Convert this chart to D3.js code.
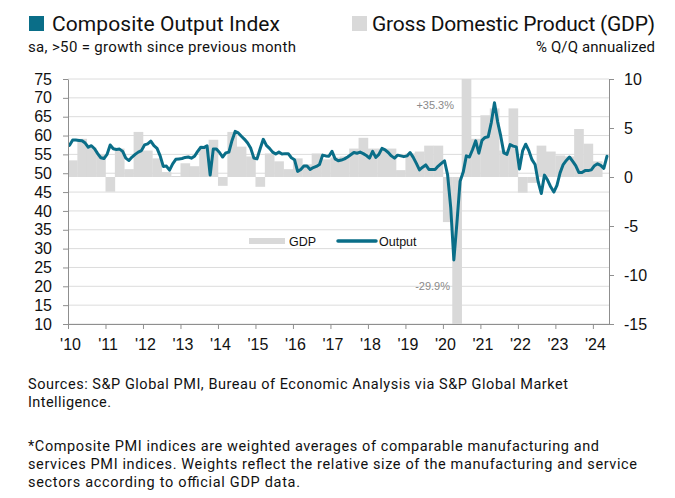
<!DOCTYPE html>
<html>
<head>
<meta charset="utf-8">
<script src="https://cdn.jsdelivr.net/npm/d3@7"></script>
<style>
  html, body { margin: 0; padding: 0; background: #fff; }
  svg { display: block; }
  .ttl { font-family: Roboto, "Liberation Sans", sans-serif; fill: #111; }
  .ax text { font-family: "Liberation Sans", Arial, sans-serif; font-size: 16px; fill: #111; }
</style>
</head>
<body>
<svg id="chart" width="675" height="498"></svg>
<script>
// ---------------- DATA ----------------
// Composite Output Index (PMI), monthly, Jan 2010 .. May 2024
const pmi2010 = [57.4, 58.8, 58.8, 58.7, 58.6, 58.0, 56.9, 57.3, 56.5, 55.2, 54.1, 53.9];
const pmi2011 = [55.0, 57.5, 56.5, 56.3, 56.4, 55.8, 54.0, 53.4, 54.3, 55.0, 55.6, 56.0];
const pmi2012 = [57.5, 57.8, 58.5, 57.3, 56.6, 54.6, 51.8, 51.9, 50.8, 52.5, 53.7, 53.8];
const pmi2013 = [53.9, 54.2, 54.3, 54.0, 54.5, 55.8, 56.9, 56.8, 57.3, 49.5, 56.4, 56.4];
const pmi2014 = [55.5, 54.3, 55.4, 55.6, 58.7, 61.1, 60.7, 59.8, 59.0, 58.0, 56.6, 54.0];
const pmi2015 = [53.8, 56.5, 59.0, 57.4, 56.6, 55.6, 55.1, 55.6, 55.1, 55.2, 55.2, 54.1];
const pmi2016 = [53.6, 50.5, 51.0, 51.9, 51.9, 51.0, 51.5, 51.8, 52.3, 54.8, 54.6, 54.5];
const pmi2017 = [55.8, 53.8, 53.3, 53.5, 53.8, 54.3, 54.9, 55.5, 55.3, 55.6, 55.2, 54.7];
const pmi2018 = [54.0, 55.8, 54.2, 55.0, 56.6, 56.2, 55.5, 54.6, 54.0, 54.8, 54.6, 54.4];
const pmi2019 = [54.6, 55.5, 54.2, 52.6, 50.9, 51.6, 52.2, 51.0, 51.0, 51.0, 51.9, 52.6];
const pmi2020 = [53.3, 49.6, 40.9, 27.0, 37.0, 47.9, 50.3, 54.6, 54.3, 56.3, 58.6, 55.3];
const pmi2021 = [58.7, 59.5, 59.7, 63.5, 68.7, 63.7, 59.9, 55.4, 55.0, 57.6, 57.2, 57.0];
const pmi2022 = [51.1, 55.9, 57.7, 56.0, 53.6, 52.3, 47.7, 44.6, 49.5, 48.2, 46.4, 45.0];
const pmi2023 = [46.8, 50.1, 52.3, 53.4, 54.3, 53.2, 52.0, 50.2, 50.2, 50.7, 50.7, 50.9];
const pmi2024 = [52.0, 52.5, 52.1, 51.3, 54.5];
const pmiStartYear = 2010;
const pmi = [].concat(pmi2010, pmi2011, pmi2012, pmi2013, pmi2014, pmi2015, pmi2016,
  pmi2017, pmi2018, pmi2019, pmi2020, pmi2021, pmi2022, pmi2023, pmi2024);

// GDP, % Q/Q annualized, quarterly, 2010Q1 .. 2024Q1
const gdp = [
  1.7, 3.9, 3.0, 2.3,
  -1.5, 2.9, 0.8, 4.6,
  2.7, 1.9, 0.5, 0.1,
  1.4, 1.1, 3.1, 3.8,
  -0.9, 4.6, 3.1, 2.1,
  -1.0, 2.4, 1.6, 0.8,
  1.9, 1.3, 2.4, 1.8,
  2.0, 2.1, 2.9, 4.0,
  2.9, 2.9, 2.9, 0.7,
  2.4, 2.6, 3.2, 3.2,
  -4.6, -29.9, 35.3, 3.9,
  6.3, 7.0, 2.7, 7.0,
  -1.6, -0.6, 3.2, 2.6,
  2.2, 2.1, 4.9, 3.4,
  1.6
];

const yearTicks = [2010, 2011, 2012, 2013, 2014, 2015, 2016, 2017, 2018, 2019, 2020, 2021, 2022, 2023, 2024];
const yearLabels = ["'10", "'11", "'12", "'13", "'14", "'15", "'16", "'17", "'18", "'19", "'20", "'21", "'22", "'23", "'24"];
const leftTicks = [10, 15, 20, 25, 30, 35, 40, 45, 50, 55, 60, 65, 70, 75];
const rightTicks = [-15, -10, -5, 0, 5, 10];
const annotations = ["+35.3%", "-29.9%"];

const titleLeft = "Composite Output Index";
const subLeft = "sa, >50 = growth since previous month";
const titleRight = "Gross Domestic Product (GDP)";
const subRight = "% Q/Q annualized";
const footer1 = ["Sources: S&P Global PMI, Bureau of Economic Analysis via S&P Global Market", "Intelligence."];
const footer2 = ["*Composite PMI indices are weighted averages of comparable manufacturing and",
  "services PMI indices. Weights reflect the relative size of the manufacturing and service",
  "sectors according to official GDP data."];

// ---------------- CHART ----------------
const TEAL = "#0a6e88";
const GREY = "#d9d9d9";
const svg = d3.select("#chart");
svg.append("rect").attr("width", 675).attr("height", 498).attr("fill", "#fff");

const L = 68, R = 609, T = 79, B = 324;
const x = d3.scaleLinear().domain([2010, 2024.43]).range([L, R]);
const yL = d3.scaleLinear().domain([10, 75]).range([B, T]);
const yR = d3.scaleLinear().domain([-15, 10]).range([B, T]);

svg.append("defs").append("clipPath").attr("id", "clip")
  .append("rect").attr("x", L).attr("y", T).attr("width", R - L).attr("height", B - T);

// gridlines
svg.append("g").selectAll("line").data(leftTicks).join("line")
  .attr("x1", L).attr("x2", R)
  .attr("y1", d => yL(d)).attr("y2", d => yL(d))
  .attr("stroke", "#dcdcdc").attr("stroke-width", 1);

// GDP bars
const clampR = v => Math.max(-15, Math.min(10, v));
svg.append("g").attr("clip-path", "url(#clip)")
  .selectAll("rect").data(gdp).join("rect")
  .attr("x", (d, i) => x(2010 + i / 4))
  .attr("width", (d, i) => x(2010 + (i + 1) / 4) - x(2010 + i / 4) + 0.3)
  .attr("y", d => Math.min(yR(0), yR(clampR(d))))
  .attr("height", d => Math.abs(yR(clampR(d)) - yR(0)))
  .attr("fill", GREY);

// PMI line
const line = d3.line()
  .x((d, i) => x(pmiStartYear + (i + 0.5) / 12))
  .y(d => yL(d));
svg.append("path").datum(pmi)
  .attr("d", line)
  .attr("fill", "none")
  .attr("stroke", TEAL)
  .attr("stroke-width", 3)
  .attr("stroke-linejoin", "round")
  .attr("stroke-linecap", "round");

// axes
const axColor = "#8f8f8f";
function styleAxis(g) {
  g.attr("class", "ax");
  g.select(".domain").attr("stroke", axColor);
  g.selectAll(".tick line").attr("stroke", axColor);
}
svg.append("g").attr("transform", `translate(${L},0)`)
  .call(d3.axisLeft(yL).tickValues(leftTicks).tickFormat(d => String(d))
    .tickSize(5).tickSizeOuter(0).tickPadding(11))
  .call(styleAxis);
svg.append("g").attr("transform", `translate(${R},0)`)
  .call(d3.axisRight(yR).tickValues(rightTicks).tickFormat(d => String(d))
    .tickSize(5).tickSizeOuter(0).tickPadding(10))
  .call(styleAxis);
svg.append("g").attr("transform", `translate(0,${B})`)
  .call(d3.axisBottom(x).tickValues(yearTicks).tickFormat((d, i) => yearLabels[i])
    .tickSize(5).tickSizeOuter(0).tickPadding(10))
  .call(styleAxis)
  .selectAll(".tick text").attr("dx", "2px");

// annotations
svg.append("text").attr("x", 454).attr("y", 109).attr("text-anchor", "end")
  .attr("font-family", "'Liberation Sans', Arial, sans-serif").attr("font-size", 11)
  .attr("fill", "#8a8a8a").text(annotations[0]);
svg.append("text").attr("x", 450).attr("y", 290).attr("text-anchor", "end")
  .attr("font-family", "'Liberation Sans', Arial, sans-serif").attr("font-size", 11)
  .attr("fill", "#8a8a8a").text(annotations[1]);

// inner legend
const lg = svg.append("g").attr("font-family", "'Liberation Sans', Arial, sans-serif").attr("font-size", 12.5).attr("fill", "#111");
lg.append("rect").attr("x", 249).attr("y", 238).attr("width", 36).attr("height", 6).attr("fill", GREY);
lg.append("text").attr("x", 289).attr("y", 245.5).text("GDP");
lg.append("line").attr("x1", 338).attr("x2", 376).attr("y1", 241).attr("y2", 241)
  .attr("stroke", TEAL).attr("stroke-width", 3.5).attr("stroke-linecap", "round");
lg.append("text").attr("x", 379).attr("y", 245.5).text("Output");

// header
function txt(t, xx, yy, size, len, anchor) {
  const el = svg.append("text").attr("class", "ttl").attr("x", xx).attr("y", yy)
    .attr("font-size", size).text(t);
  if (anchor) el.attr("text-anchor", anchor);
  if (len) el.attr("textLength", len).attr("lengthAdjust", "spacing");
  return el;
}
svg.append("rect").attr("x", 29).attr("y", 16).attr("width", 15).attr("height", 15).attr("fill", TEAL);
txt(titleLeft, 52, 31, 21, 228);
txt(subLeft, 28, 52, 15, 268);
svg.append("rect").attr("x", 352).attr("y", 16).attr("width", 15).attr("height", 15).attr("fill", GREY);
txt(titleRight, 372, 31, 21, 283);
txt(subRight, 536, 52, 15, 119);

// footer
txt(footer1[0], 28, 389, 14.5, 540);
txt(footer1[1], 28, 407, 14.5, 83);
txt(footer2[0], 28, 451, 14.5, 571);
txt(footer2[1], 28, 469, 14.5, 609);
txt(footer2[2], 28, 487, 14.5, 272);
</script>
</body>
</html>
